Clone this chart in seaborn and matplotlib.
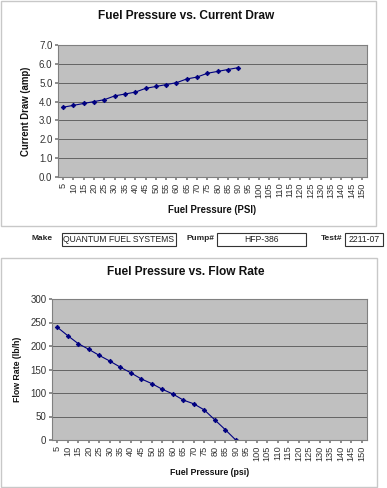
import matplotlib
matplotlib.use("Agg")
import matplotlib.pyplot as plt
import seaborn as sns
import pandas as pd
from matplotlib.patches import Rectangle

sns.set_theme(style="white")
plt.rcParams['font.family'] = ['Liberation Sans', 'DejaVu Sans']

categories = [str(v) for v in range(5, 155, 5)]
pressure = ["5", "10", "15", "20", "25", "30", "35", "40", "45", "50", "55", "60",
            "65", "70", "75", "80", "85", "90"]
current_amp = [3.7, 3.8, 3.9, 4.0, 4.1, 4.3, 4.4, 4.5, 4.7, 4.8, 4.9, 5.0,
               5.2, 5.3, 5.5, 5.6, 5.7, 5.8]
flow_lbh = [240, 222, 205, 193, 180, 168, 155, 143, 130, 120, 108, 98,
            85, 77, 64, 43, 22, 0]
current_ticks = [0, 1, 2, 3, 4, 5, 6, 7]
flow_ticks = [0, 50, 100, 150, 200, 250, 300]

make = "QUANTUM FUEL SYSTEMS"
pump = "HFP-386"
test = "2211-07"

W, H = 387, 488
fig = plt.figure(figsize=(W / 100, H / 100), dpi=100)
fig.patch.set_facecolor("white")

def fx(px):
    return px / W

def fy(py):
    return 1 - py / H

# outer chart borders
for (x0, y0, x1, y1) in [(1, 1, 376, 226), (1, 258, 377, 487)]:
    fig.patches.append(Rectangle((fx(x0), fy(y1)), fx(x1 - x0), (y1 - y0) / H,
                                 transform=fig.transFigure, fill=False,
                                 edgecolor="#c8c8c8", linewidth=1.0))

navy = "#000080"
tick_color = "#333333"

def style_axes(ax, ymax, yticks, fmt):
    ax.set_facecolor("#c0c0c0")
    ax.set_xlim(-0.5, len(categories) - 0.5)
    ax.set_ylim(0, ymax)
    ax.set_yticks(yticks)
    ax.set_yticklabels([fmt(t) for t in yticks], fontsize=7, color=tick_color)
    ax.set_xticks(range(len(categories)))
    ax.set_xticklabels(categories, rotation=90, fontsize=6.6, color=tick_color)
    ax.yaxis.grid(True, color="#555555", linewidth=0.6)
    ax.xaxis.grid(False)
    ax.set_axisbelow(True)
    for s in ax.spines.values():
        s.set_color("#808080")
        s.set_linewidth(0.8)
    ax.tick_params(axis="both", length=2, pad=2, color="#808080")
    ax.tick_params(axis="x", bottom=True)
    ax.tick_params(axis="y", left=True)

# top chart
ax1 = fig.add_axes([fx(58), fy(177), fx(367 - 58), (177 - 45) / H])
df1 = pd.DataFrame({"Pressure": pressure, "Current": current_amp})
sns.pointplot(data=df1, x="Pressure", y="Current", order=categories, ax=ax1,
              color=navy, markers="D", markersize=2.3, linewidth=0.8)
style_axes(ax1, 7, current_ticks, lambda t: f"{t:.1f}")
ax1.set_xlabel("Fuel Pressure (PSI)", fontsize=6.9, fontweight="bold", labelpad=5,
               color="#111111")
ax1.set_ylabel("Current Draw (amp)", fontsize=6.9, fontweight="bold", labelpad=6,
               color="#111111")
fig.text(fx(186), fy(16), "Fuel Pressure vs. Current Draw", ha="center", va="center",
         fontsize=8.6, fontweight="bold", color="#111111")

# info row
row_y = fy(239)
fig.text(fx(53), row_y, "Make", ha="right", va="center", fontsize=6, fontweight="bold")
fig.text(fx(214), row_y, "Pump#", ha="right", va="center", fontsize=6, fontweight="bold")
fig.text(fx(342), row_y, "Test#", ha="right", va="center", fontsize=6, fontweight="bold")
for (x0, x1, txt) in [(62, 176, make), (217, 306, pump), (345, 383, test)]:
    fig.patches.append(Rectangle((fx(x0), fy(246)), fx(x1 - x0), 13 / H,
                                 transform=fig.transFigure, fill=False,
                                 edgecolor="#333333", linewidth=0.8))
    fig.text(fx((x0 + x1) / 2), row_y, txt, ha="center", va="center", fontsize=6.2,
             color="#222222")

# bottom chart
ax2 = fig.add_axes([fx(52), fy(440), fx(367 - 52), (440 - 299) / H])
df2 = pd.DataFrame({"Pressure": pressure, "Flow": flow_lbh})
sns.pointplot(data=df2, x="Pressure", y="Flow", order=categories, ax=ax2,
              color=navy, markers="D", markersize=2.3, linewidth=0.8)
style_axes(ax2, 300, flow_ticks, lambda t: f"{t:d}")
ax2.set_xlabel("Fuel Pressure (psi)", fontsize=6.3, fontweight="bold", labelpad=5,
               color="#111111")
ax2.set_ylabel("Flow Rate (lb/h)", fontsize=6.3, fontweight="bold", labelpad=6,
               color="#111111")
fig.text(fx(186), fy(272), "Fuel Pressure vs. Flow Rate", ha="center", va="center",
         fontsize=8.6, fontweight="bold", color="#111111")

fig.savefig("out.png", dpi=100)
